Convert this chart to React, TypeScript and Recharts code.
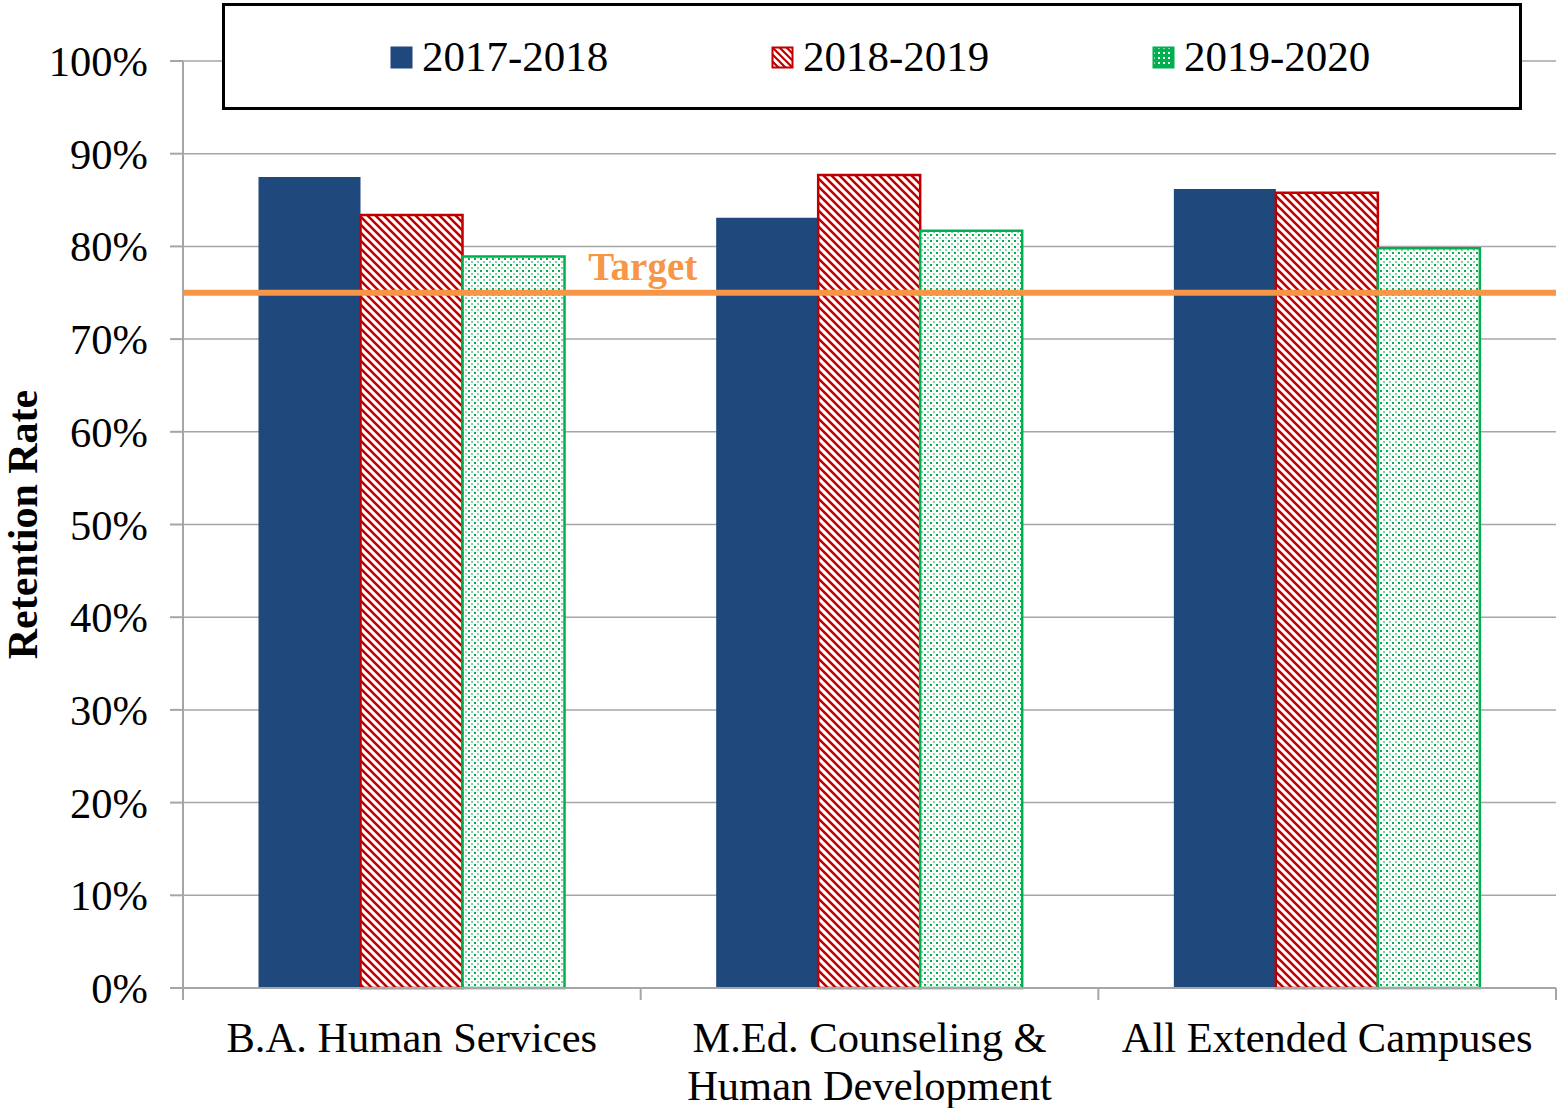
import React from 'react'
import { BarChart, Bar, XAxis, YAxis, CartesianGrid, Legend, ReferenceLine } from 'recharts'

const categories = ['B.A. Human Services', 'M.Ed. Counseling &\nHuman Development', 'All Extended Campuses']
const seriesNames = ['2017-2018', '2018-2019', '2019-2020']
const y2017 = [87.5, 83.1, 86.2]
const y2018 = [83.4, 87.7, 85.8]
const y2019 = [78.9, 81.7, 79.8]
const yTicks = [0, 10, 20, 30, 40, 50, 60, 70, 80, 90, 100]
const target = 75

const data = categories.map((name, i) => ({
  name,
  a: y2017[i],
  b: y2018[i],
  c: y2019[i],
}))

const W = 1558
const H = 1108
const Y_AXIS_W = 183
const M_RIGHT = 2
const PLOT_W = W - Y_AXIS_W - M_RIGHT
const FONT = '"Liberation Serif", "Times New Roman", serif'
const GRID = '#a6a6a6'

const BLUE = '#1F497D'
const RED = '#C00000'
const GREEN = '#00B050'
const ORANGE = '#F79646'

const Patterns = () => (
  <defs>
    <pattern id="stripes" patternUnits="userSpaceOnUse" width="8" height="8">
      <rect width="8" height="8" fill="#fff" />
      <path d="M-2,-2 L10,10 M-2,6 L2,10 M6,-2 L10,2" stroke={RED} strokeWidth="2.6" />
    </pattern>
    <pattern id="dots" patternUnits="userSpaceOnUse" width="6" height="6">
      <rect width="6" height="6" fill="#fff" />
      <rect x="0" y="0" width="2" height="2" fill={GREEN} />
      <rect x="3" y="3" width="2" height="2" fill="#7fd6a0" />
      <rect x="3" y="0" width="1" height="1" fill="#c5ecd3" />
    </pattern>
    <pattern id="stripesBig" patternUnits="userSpaceOnUse" width="7" height="7">
      <rect width="7" height="7" fill="#fff" />
      <path d="M-2,-2 L9,9 M-2,5 L2,9 M5,-2 L9,2" stroke={RED} strokeWidth="2.2" />
    </pattern>
    <pattern id="dotsBig" patternUnits="userSpaceOnUse" width="5" height="5">
      <rect width="5" height="5" fill={GREEN} />
      <rect x="1" y="1" width="2" height="2" fill="#fff" />
    </pattern>
  </defs>
)

const swatchFills = [BLUE, 'url(#stripesBig)', 'url(#dotsBig)']
const swatchStrokes = [BLUE, RED, GREEN]

const LegendBox = () => (
  <div
    style={{
      width: 1300,
      height: 107,
      boxSizing: 'border-box',
      border: '3px solid #000',
      background: '#fff',
      display: 'flex',
      alignItems: 'center',
      paddingLeft: 165,
      fontFamily: FONT,
      fontSize: 43,
      color: '#000',
    }}
  >
    {seriesNames.map((s, i) => (
      <div
        key={s}
        style={{ width: i < seriesNames.length - 1 ? 381 : 'auto', flexShrink: 0, display: 'flex', alignItems: 'center' }}
      >
        <svg width={24} height={24} style={{ marginRight: 8, marginTop: 2 }}>
          <rect x={1.5} y={1.5} width={20} height={20} fill={swatchFills[i]} stroke={swatchStrokes[i]} strokeWidth={2} />
        </svg>
        <span>{s}</span>
      </div>
    ))}
  </div>
)

const XTick = (props: any) => {
  const { x, y, payload, index } = props
  const half = PLOT_W / 6
  const lines = String(payload.value).split('\n')
  return (
    <g>
      <line x1={x - half} y1={y} x2={x - half} y2={y + 12} stroke={GRID} strokeWidth={2} />
      {index === categories.length - 1 && (
        <line x1={x + half} y1={y} x2={x + half} y2={y + 12} stroke={GRID} strokeWidth={2} />
      )}
      {lines.map((l, i) => (
        <text key={i} x={x} y={y + 64 + i * 48} textAnchor="middle" fontFamily={FONT} fontSize={42.5} fill="#000">
          {l}
        </text>
      ))}
    </g>
  )
}

const YLabel = (props: any) => {
  const vb = props.viewBox
  const cx = 37
  const cy = vb.y + vb.height / 2
  return (
    <text
      x={cx}
      y={cy}
      transform={`rotate(-90 ${cx} ${cy})`}
      textAnchor="middle"
      fontFamily={FONT}
      fontWeight="bold"
      fontSize={42}
      fill="#000"
    >
      Retention Rate
    </text>
  )
}

const TargetLabel = (props: any) => {
  const vb = props.viewBox
  return (
    <text
      x={vb.x + PLOT_W / 3 + 2}
      y={vb.y - 13}
      textAnchor="middle"
      fontFamily={FONT}
      fontWeight="bold"
      fontSize={39}
      fill={ORANGE}
    >
      Target
    </text>
  )
}

export default function App() {
  return (
    <div style={{ position: 'absolute', left: 0, top: 0, background: '#fff' }}>
      <BarChart
        width={W}
        height={H}
        data={data}
        margin={{ top: 61, right: M_RIGHT, left: 0, bottom: 0 }}
        barGap={0}
        barCategoryGap="16.5%"
      >
        <Patterns />
        <CartesianGrid vertical={false} stroke={GRID} strokeWidth={1.5} />
        <XAxis
          dataKey="name"
          height={120}
          stroke={GRID}
          strokeWidth={2}
          tickLine={false}
          tickSize={0}
          tickMargin={0}
          interval={0}
          tick={<XTick />}
        />
        <YAxis
          width={Y_AXIS_W}
          domain={[0, 100]}
          ticks={yTicks}
          tickFormatter={(v) => `${v}%`}
          stroke={GRID}
          strokeWidth={2}
          tickSize={13}
          tickMargin={22}
          tick={{ fontFamily: FONT, fontSize: 42.5, fill: '#000' }}
          label={<YLabel />}
        />
        <Legend
          layout="horizontal"
          verticalAlign="middle"
          align="center"
          wrapperStyle={{ top: 3, left: 222, width: 1300, height: 107 }}
          content={() => <LegendBox />}
        />
        <Bar dataKey="a" name={seriesNames[0]} fill={BLUE} isAnimationActive={false} />
        <Bar dataKey="b" name={seriesNames[1]} fill="url(#stripes)" stroke={RED} strokeWidth={2.5} isAnimationActive={false} />
        <Bar dataKey="c" name={seriesNames[2]} fill="url(#dots)" stroke={GREEN} strokeWidth={2.5} isAnimationActive={false} />
        <ReferenceLine
          y={target}
          stroke={ORANGE}
          strokeWidth={6}
          ifOverflow="visible"
          label={<TargetLabel />}
        />
      </BarChart>
    </div>
  )
}
